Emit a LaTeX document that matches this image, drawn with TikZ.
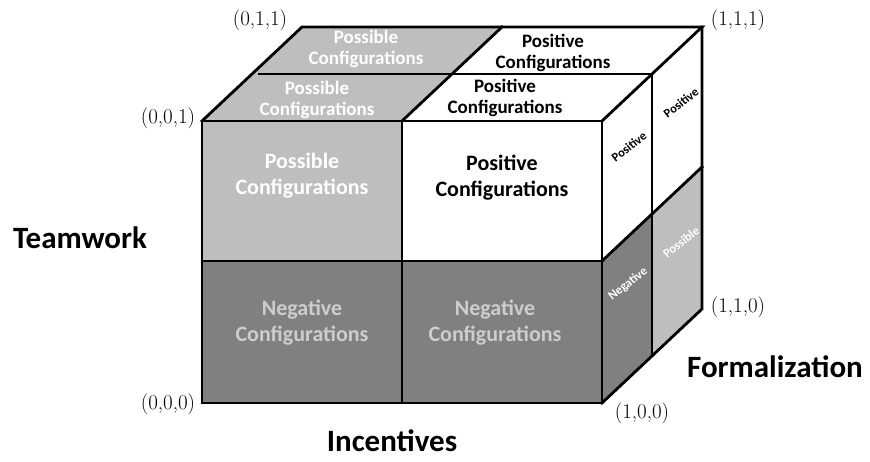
\documentclass[tikz,border=0pt]{standalone}
\usepackage{fontspec}
\setsansfont{Carlito}
\definecolor{lightg}{RGB}{190,190,190}
\definecolor{darkg}{RGB}{128,128,128}
\definecolor{negtxt}{RGB}{205,205,205}
\begin{document}
\begin{tikzpicture}[x=1pt,y=-1pt,
  edge/.style={line width=2.8pt,line join=miter,line cap=rect},
  bigtxt/.style={align=center,inner sep=1pt,font=\sffamily\bfseries\fontsize{22}{26}\selectfont},
  toptxt/.style={align=center,inner sep=1pt,font=\sffamily\bfseries\fontsize{19}{21.5}\selectfont},
  sidetxt/.style={inner sep=0pt,font=\sffamily\bfseries\fontsize{12.5}{14}\selectfont,rotate=38},
  axis/.style={font=\sffamily\bfseries\fontsize{31}{34}\selectfont},
  corner/.style={inner sep=1pt,font=\fontsize{21}{24}\selectfont}]
\useasboundingbox (0,0) rectangle (870,462);
% coordinates
\coordinate (f00) at (202,403); \coordinate (f10) at (602,403);
\coordinate (f01) at (202,121); \coordinate (f11) at (602,121);
\coordinate (fm0) at (402,403); \coordinate (fm1) at (402,121);
\coordinate (fl) at (202,261); \coordinate (fr) at (602,261); \coordinate (fc) at (402,261);
\coordinate (b01) at (302,27); \coordinate (b11) at (702,27); \coordinate (bm1) at (502,27);
\coordinate (b10) at (702,309); \coordinate (br) at (702,167);
\coordinate (mt) at (652,74); \coordinate (mr) at (652,214); \coordinate (mb) at (652,356);
\coordinate (ml) at (259,74);
% fills
\fill[lightg] (f01) rectangle (fc);
\fill[white] (fm1) rectangle (fr);
\fill[darkg] (fl) rectangle (f10);
\fill[lightg] (f01) -- (fm1) -- (bm1) -- (b01) -- cycle;
\fill[white] (fm1) -- (f11) -- (b11) -- (bm1) -- cycle;
\fill[white] (f11) -- (b11) -- (br) -- (fr) -- cycle;
\fill[darkg] (fr) -- (mr) -- (mb) -- (f10) -- cycle;
\fill[lightg] (mr) -- (br) -- (b10) -- (mb) -- cycle;
% edges
\draw[edge] (f01) rectangle (f10);
\draw[edge] (fm1) -- (fm0);
\draw[edge] (fl) -- (fr);
\draw[edge] (f01) -- (b01) -- (b11) -- (f11);
\draw[edge] (b11) -- (b10) -- (f10);
\draw[edge] (fm1) -- (bm1);
\draw[edge] (fr) -- (br);
\draw[edge] (ml) -- (mt) -- (mb);
% front texts
\node[bigtxt,text=white] (t1) at (302,176) {Possible\\Configurations};
\node[bigtxt,text=black] (t2) at (502,178) {Positive\\Configurations};
\node[bigtxt,text=negtxt] (t3) at (302,323) {Negative\\Configurations};
\node[bigtxt,text=negtxt] (t4) at (495,323) {Negative\\Configurations};
% top texts
\node[toptxt,text=white] (t5) at (366,49) {Possible\\Configurations};
\node[toptxt,text=white] (t6) at (317,100) {Possible\\Configurations};
\node[toptxt,text=black] (t7) at (553,53) {Positive\\Configurations};
\node[toptxt,text=black] (t8) at (505,98) {Positive\\Configurations};
% side texts
\node[sidetxt,text=black] (s1) at (629,147) {Positive};
\node[sidetxt,text=black] (s2) at (681,103) {Positive};
\node[sidetxt,text=white] (s3) at (628,284) {Negative};
\node[sidetxt,text=white] (s4) at (681,242) {Possible};
% corner labels
\node[corner] (c011) at (260,20) {(0,1,1)};
\node[corner] (c111) at (738,20) {(1,1,1)};
\node[corner] (c001) at (168,118) {(0,0,1)};
\node[corner] (c000) at (168,404) {(0,0,0)};
\node[corner] (c110) at (738,307) {(1,1,0)};
\node[corner] (c100) at (642,413) {(1,0,0)};
% axis labels
\node[axis] (ax1) at (80,238) {Teamwork};
\node[axis] (ax2) at (775,367) {Formalization};
\node[axis] (ax3) at (392,441) {Incentives};
\end{tikzpicture}
\end{document}
